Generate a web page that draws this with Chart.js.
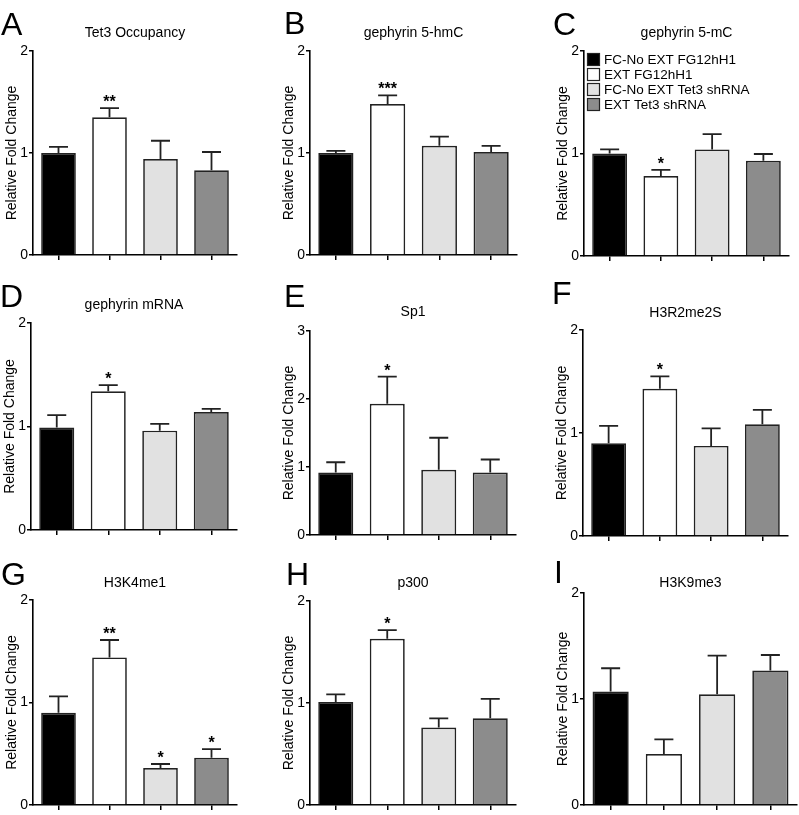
<!DOCTYPE html>
<html>
<head>
<meta charset="utf-8">
<script src="https://cdn.jsdelivr.net/npm/chart.js@4.4.1/dist/chart.umd.min.js"></script>
<style>
  html, body { margin: 0; padding: 0; background: #fff; width: 799px; height: 815px; overflow: hidden; }
  canvas { position: absolute; }
</style>
</head>
<body>
<script>
// groups (same four in every panel)
const categories = ["FC-No EXT FG12hH1", "EXT FG12hH1", "FC-No EXT Tet3 shRNA", "EXT Tet3 shRNA"];
const barColors = ["#000000", "#ffffff", "#e1e1e1", "#8c8c8c"];

const panelLetters = ["A", "B", "C", "D", "E", "F", "G", "H", "I"];
const panelTitles = ["Tet3 Occupancy", "gephyrin 5-hmC", "gephyrin 5-mC", "gephyrin mRNA", "Sp1",
                     "H3R2me2S", "H3K4me1", "p300", "H3K9me3"];
const yMaxes = [2, 2, 2, 2, 3, 2, 2, 2, 2];

// mean and SEM
const tet3Mean = [1.00, 1.35, 0.94, 0.83];
const tet3Sem = [0.06, 0.09, 0.18, 0.18];
const tet3Stars = ["", "**", "", ""];

const hmcMean = [1.00, 1.48, 1.07, 1.01];
const hmcSem = [0.02, 0.085, 0.09, 0.06];
const hmcStars = ["", "***", "", ""];

const mcMean = [1.00, 0.78, 1.04, 0.93];
const mcSem = [0.04, 0.06, 0.15, 0.065];
const mcStars = ["", "*", "", ""];

const mrnaMean = [0.99, 1.34, 0.96, 1.14];
const mrnaSem = [0.12, 0.06, 0.065, 0.03];
const mrnaStars = ["", "*", "", ""];

const sp1Mean = [0.92, 1.93, 0.96, 0.92];
const sp1Sem = [0.15, 0.40, 0.47, 0.19];
const sp1Stars = ["", "*", "", ""];

const h3r2Mean = [0.90, 1.43, 0.875, 1.085];
const h3r2Sem = [0.17, 0.12, 0.17, 0.14];
const h3r2Stars = ["", "*", "", ""];

const h3k4Mean = [0.90, 1.44, 0.36, 0.46];
const h3k4Sem = [0.16, 0.17, 0.04, 0.085];
const h3k4Stars = ["", "**", "*", "*"];

const p300Mean = [1.01, 1.63, 0.76, 0.85];
const p300Sem = [0.075, 0.085, 0.09, 0.19];
const p300Stars = ["", "*", "", ""];

const h3k9Mean = [1.07, 0.48, 1.045, 1.27];
const h3k9Sem = [0.22, 0.14, 0.365, 0.145];
const h3k9Stars = ["", "", "", ""];

const means = [tet3Mean, hmcMean, mcMean, mrnaMean, sp1Mean, h3r2Mean, h3k4Mean, p300Mean, h3k9Mean];
const sems = [tet3Sem, hmcSem, mcSem, mrnaSem, sp1Sem, h3r2Sem, h3k4Sem, p300Sem, h3k9Sem];
const stars = [tet3Stars, hmcStars, mcStars, mrnaStars, sp1Stars, h3r2Stars, h3k4Stars, p300Stars, h3k9Stars];

// page placement of each plot: y axis x, top tick y, zero y, right end, title y, letter x / baseline
const boxes = [
  { ax: 33,  top: 51,  zero: 255, right: 237, titleY: 33,  lx: 1,   ly: 35 },
  { ax: 310, top: 51,  zero: 255, right: 517, titleY: 33,  lx: 284, ly: 34 },
  { ax: 584, top: 51,  zero: 256, right: 789, titleY: 33,  lx: 553, ly: 35 },
  { ax: 31,  top: 323, zero: 530, right: 237, titleY: 305, lx: 0,   ly: 307 },
  { ax: 310, top: 331, zero: 535, right: 516, titleY: 312, lx: 284, ly: 307 },
  { ax: 583, top: 330, zero: 536, right: 788, titleY: 313, lx: 552, ly: 304 },
  { ax: 33,  top: 600, zero: 805, right: 237, titleY: 583, lx: 1,   ly: 585 },
  { ax: 310, top: 601, zero: 805, right: 516, titleY: 583, lx: 286, ly: 585 },
  { ax: 584, top: 593, zero: 805, right: 797, titleY: 583, lx: 554, ly: 583 }
];

const FONT = "'Liberation Sans', Arial, Helvetica, sans-serif";
Chart.defaults.font.family = FONT;
Chart.defaults.color = "#000";

function makePanel(i) {
  const b = boxes[i];
  const left = b.ax - 33;
  const top = b.top - 50;
  const w = b.right - b.ax + 35;
  const h = b.zero - b.top + 62;

  const canvas = document.createElement("canvas");
  canvas.width = w;
  canvas.height = h;
  canvas.style.left = left + "px";
  canvas.style.top = top + "px";
  canvas.style.width = w + "px";
  canvas.style.height = h + "px";
  document.body.appendChild(canvas);

  const decor = {
    id: "decor" + i,
    afterDatasetsDraw(chart) {
      const ctx = chart.ctx;
      const y = chart.scales.y;
      const bars = chart.getDatasetMeta(0).data;
      ctx.save();
      ctx.strokeStyle = "#222";
      ctx.lineWidth = 1.8;
      bars.forEach((bar, k) => {
        const yt = y.getPixelForValue(means[i][k] + sems[i][k]);
        ctx.beginPath();
        ctx.moveTo(bar.x, bar.y);
        ctx.lineTo(bar.x, yt);
        ctx.moveTo(bar.x - 9.5, yt);
        ctx.lineTo(bar.x + 9.5, yt);
        ctx.stroke();
        if (stars[i][k]) {
          ctx.fillStyle = "#000";
          ctx.font = "bold 16px " + FONT;
          ctx.textAlign = "center";
          ctx.textBaseline = "alphabetic";
          ctx.fillText(stars[i][k], bar.x, yt - 1);
        }
      });
      ctx.restore();
    },
    afterDraw(chart) {
      const ctx = chart.ctx;
      const area = chart.chartArea;
      ctx.save();
      ctx.fillStyle = "#000";
      // panel title
      ctx.font = "14px " + FONT;
      ctx.textAlign = "center";
      ctx.textBaseline = "middle";
      ctx.fillText(panelTitles[i], (area.left + area.right) / 2, b.titleY - top);
      // panel letter
      ctx.font = "32px " + FONT;
      ctx.textAlign = "left";
      ctx.textBaseline = "alphabetic";
      ctx.fillText(panelLetters[i], b.lx - left, b.ly - top);
      // legend sits in panel C
      if (i === 2) {
        ctx.font = "13.5px " + FONT;
        ctx.textBaseline = "middle";
        categories.forEach((name, k) => {
          const sx = 587 - left, sy = 53 + k * 15 - top;
          ctx.fillStyle = barColors[k];
          ctx.fillRect(sx, sy, 13, 13);
          ctx.strokeStyle = "#222";
          ctx.lineWidth = 1.2;
          ctx.strokeRect(sx + 0.5, sy + 0.5, 12, 12);
          ctx.fillStyle = "#000";
          ctx.fillText(name, 604 - left, sy + 7);
        });
      }
      ctx.restore();
    }
  };

  new Chart(canvas, {
    type: "bar",
    data: {
      labels: categories,
      datasets: [{
        data: means[i],
        backgroundColor: barColors,
        borderColor: "#222",
        borderWidth: 1.7,
        barPercentage: 0.68,
        categoryPercentage: 1
      }]
    },
    options: {
      responsive: false,
      animation: false,
      layout: { padding: { top: 50, right: 2, bottom: 4, left: 0 } },
      plugins: { legend: { display: false }, tooltip: { enabled: false } },
      scales: {
        x: {
          grid: { display: true, drawOnChartArea: false, drawTicks: true, tickLength: 5, color: "#000", lineWidth: 1.5, offset: false },
          border: { display: true, color: "#000", width: 1.6 },
          ticks: { display: false },
          afterFit(s) { s.height = 8; }
        },
        y: {
          min: 0,
          max: yMaxes[i],
          ticks: { stepSize: 1, color: "#000", font: { size: 14 }, padding: 1 },
          grid: { display: true, drawOnChartArea: false, drawTicks: true, tickLength: 4, color: "#000", lineWidth: 1.5 },
          border: { display: true, color: "#000", width: 1.6 },
          title: { display: true, text: "Relative Fold Change", color: "#000", font: { size: 14 }, padding: { top: 4, bottom: 0 } },
          afterFit(s) { s.width = 33; }
        }
      }
    },
    plugins: [decor]
  });
}

for (let i = 0; i < 9; i++) makePanel(i);
</script>
</body>
</html>
